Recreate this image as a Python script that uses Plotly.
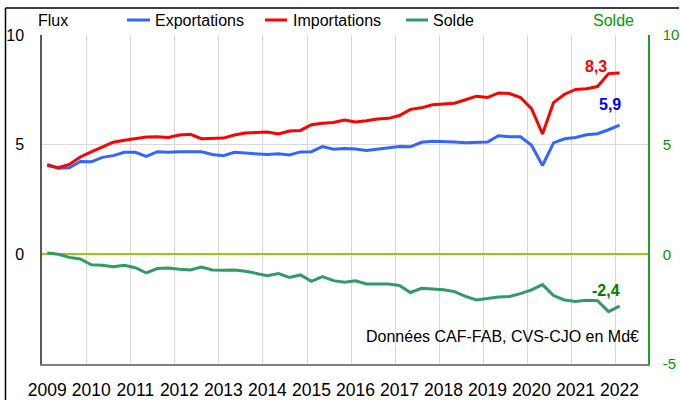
import plotly.graph_objects as go

# ---------------- data (quarterly, 2009 T1 -> 2022 T1, Md€) ----------------
years = list(range(2009, 2023))
n_quarters = 53

exportations = [4.10, 3.93, 3.95, 4.23, 4.22, 4.42, 4.50, 4.65, 4.65, 4.47,
                4.68, 4.65, 4.68, 4.68, 4.68, 4.55, 4.50, 4.65, 4.61, 4.58,
                4.55, 4.59, 4.53, 4.67, 4.68, 4.91, 4.79, 4.83, 4.80, 4.73,
                4.80, 4.85, 4.92, 4.90, 5.11, 5.16, 5.15, 5.12, 5.09, 5.09,
                5.12, 5.41, 5.36, 5.36, 4.97, 4.05, 5.08, 5.27, 5.33, 5.45,
                5.50, 5.68, 5.89]

importations = [4.05, 3.95, 4.10, 4.44, 4.67, 4.88, 5.11, 5.20, 5.27, 5.35,
                5.36, 5.33, 5.44, 5.47, 5.27, 5.30, 5.30, 5.44, 5.53, 5.55,
                5.58, 5.49, 5.62, 5.65, 5.91, 5.98, 6.01, 6.12, 6.03, 6.09,
                6.17, 6.20, 6.33, 6.61, 6.68, 6.82, 6.85, 6.89, 7.05, 7.21,
                7.15, 7.36, 7.33, 7.15, 6.64, 5.49, 6.92, 7.30, 7.52, 7.55,
                7.65, 8.24, 8.27]

solde = [0.06, 0.00, -0.14, -0.21, -0.48, -0.50, -0.56, -0.50, -0.61, -0.85,
         -0.65, -0.62, -0.68, -0.71, -0.58, -0.71, -0.73, -0.71, -0.77, -0.86,
         -0.97, -0.88, -1.05, -0.94, -1.23, -1.02, -1.20, -1.27, -1.21, -1.35,
         -1.35, -1.35, -1.42, -1.74, -1.55, -1.58, -1.61, -1.70, -1.92, -2.08,
         -2.00, -1.95, -1.92, -1.79, -1.62, -1.38, -1.88, -2.08, -2.15, -2.09,
         -2.11, -2.61, -2.36]

x = [2009 + i / 4 for i in range(n_quarters)]
grid_x = [y + 0.9 for y in years[:-1]]

# ---------------- styling ----------------
FONT = "Liberation Sans, Arial, sans-serif"
BLUE, RED, GREEN = "#3366FF", "#FF0000", "#339966"
AXIS_GREEN = "#009900"
W, H = 680, 401
ML, MR, MT, MB = 42, 32, 35, 37
PW, PH = W - ML - MR, H - MT - MB


def px_x(p):
    return (p - ML) / PW


def px_y(p):
    return (H - MB - p) / PH


def fmt(v):
    return f"{v:.1f}".replace(".", ",")


fig = go.Figure()
fig.add_trace(go.Scatter(x=x, y=exportations, mode="lines", name="Exportations",
                         line=dict(color=BLUE, width=3), showlegend=False))
fig.add_trace(go.Scatter(x=x, y=importations, mode="lines", name="Importations",
                         line=dict(color=RED, width=3), showlegend=False))
fig.add_trace(go.Scatter(x=x, y=solde, mode="lines", name="Solde", yaxis="y2",
                         line=dict(color=GREEN, width=3), showlegend=False))

fig.update_layout(
    width=W, height=H, autosize=False,
    margin=dict(l=ML, r=MR, t=MT, b=MB, pad=0, autoexpand=False),
    paper_bgcolor="white", plot_bgcolor="white",
    font=dict(family=FONT, size=16, color="black"),
    xaxis=dict(
        range=[2008.880, 2022.646], automargin=False,
        tickmode="array", tickvals=years, ticktext=[str(y) for y in years],
        showgrid=False, zeroline=False,
        showline=True, linecolor="#808080", linewidth=1.5,
        ticks="", ticklabelstandoff=9,
        tickfont=dict(size=17.5, color="black"),
        minor=dict(tickmode="array", tickvals=grid_x, showgrid=True,
                   gridcolor="#D9D9D9", gridwidth=1, ticks=""),
    ),
    yaxis=dict(
        range=[-5, 10], automargin=False,
        tickmode="array", tickvals=[0, 5, 10],
        ticktext=["0", "5", "10"],
        showgrid=True, gridcolor="#D9D9D9", gridwidth=1,
        zeroline=True, zerolinecolor="#99CC00", zerolinewidth=2,
        showline=True, linecolor="#595959", linewidth=1.5,
        ticks="", ticklabelstandoff=13,
        tickfont=dict(size=16, color="black"),
    ),
    yaxis2=dict(
        range=[-5, 10], overlaying="y", side="right", anchor="x", automargin=False,
        tickmode="array", tickvals=[-5, 0, 5, 10],
        ticktext=["-5", "0", "5", "10"],
        showgrid=False, zeroline=False,
        showline=True, linecolor="#22A022", linewidth=1.5,
        ticks="", ticklabelstandoff=10,
        tickfont=dict(size=15, color=AXIS_GREEN),
    ),
)

shapes = [
    # outer frame (left and top)
    dict(type="line", xref="paper", yref="paper", layer="above",
         x0=px_x(5.5), x1=px_x(5.5), y0=px_y(8), y1=px_y(400),
         line=dict(color="black", width=1.5)),
    dict(type="line", xref="paper", yref="paper", layer="above",
         x0=px_x(5.5), x1=px_x(679), y0=px_y(8), y1=px_y(8),
         line=dict(color="black", width=1.5)),
]
legend_items = [("Exportations", BLUE, 127, 150, 152.5),
                ("Importations", RED, 265, 287, 290.5),
                ("Solde", GREEN, 406, 428, 431)]
annotations = []
for label, col, x0, x1, xt in legend_items:
    shapes.append(dict(type="line", xref="paper", yref="paper",
                       x0=px_x(x0), x1=px_x(x1), y0=px_y(20), y1=px_y(20),
                       line=dict(color=col, width=3)))
    annotations.append(dict(text=label, xref="paper", yref="paper",
                            x=px_x(xt), y=px_y(20), xanchor="left", yanchor="middle",
                            showarrow=False, font=dict(size=16, color="black")))

annotations += [
    dict(text="Flux", xref="paper", yref="paper", x=px_x(36), y=px_y(20),
         xanchor="left", yanchor="middle", showarrow=False,
         font=dict(size=16, color="black")),
    dict(text="Solde", xref="paper", yref="paper", x=px_x(591), y=px_y(20),
         xanchor="left", yanchor="middle", showarrow=False,
         font=dict(size=16, color=AXIS_GREEN)),
    dict(text="Données CAF-FAB, CVS-CJO en Md€", xref="paper", yref="paper",
         x=px_x(641), y=px_y(336), xanchor="right", yanchor="middle",
         showarrow=False, font=dict(size=16, color="black")),
    dict(text=f"<b>{fmt(importations[-1])}</b>", xref="x", yref="y",
         x=x[-1], y=importations[-1], xanchor="right", yanchor="middle",
         xshift=-11, yshift=6, showarrow=False, font=dict(size=16, color="#FF0000")),
    dict(text=f"<b>{fmt(exportations[-1])}</b>", xref="x", yref="y",
         x=x[-1], y=exportations[-1], xanchor="right", yanchor="middle",
         xshift=3, yshift=21, showarrow=False, font=dict(size=16, color="#0000FF")),
    dict(text=f"<b>{fmt(solde[-1])}</b>", xref="x", yref="y2",
         x=x[-1], y=solde[-1], xanchor="right", yanchor="middle",
         xshift=2, yshift=16, showarrow=False, font=dict(size=16, color="#008000")),
]

fig.update_layout(shapes=shapes, annotations=annotations)
fig.write_html(
    "out.html",
    config={"displayModeBar": False},
    post_script="document.body.style.margin='0';document.body.style.overflow='hidden';",
)
